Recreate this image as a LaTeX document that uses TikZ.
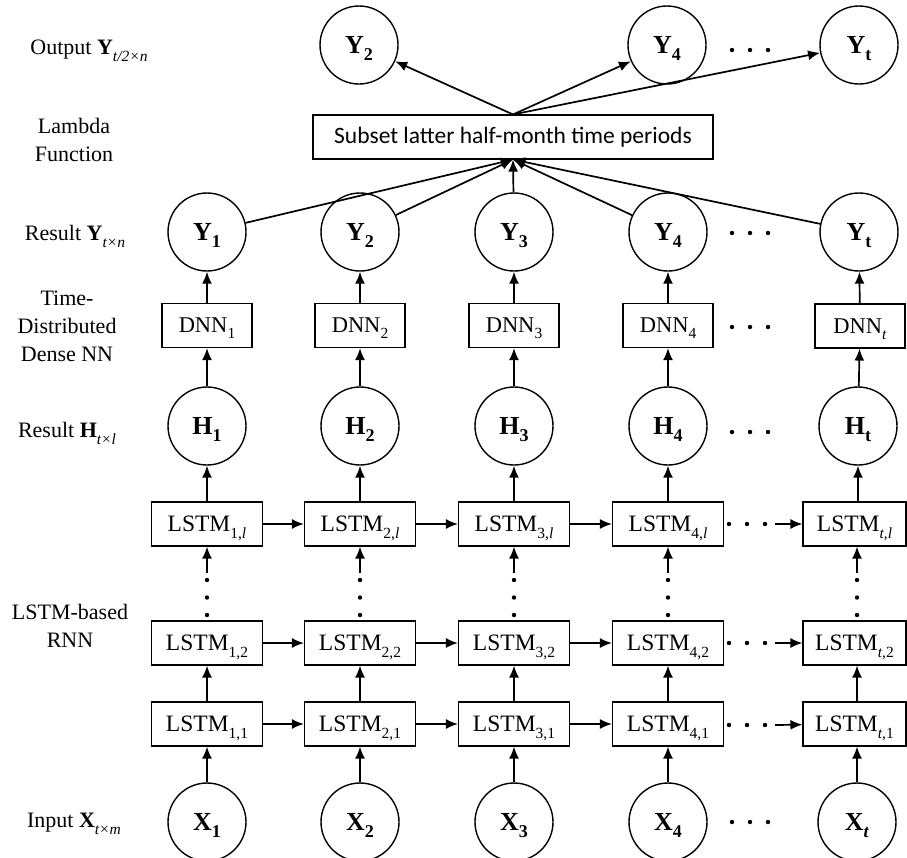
\documentclass[tikz,border=0pt]{standalone}
\usepackage{fontspec}
\setmainfont{Liberation Serif}
\newfontfamily\calfont{Carlito}
\usetikzlibrary{arrows.meta}
\newcommand\sbs[1]{\raisebox{-0.27em}[0pt][0pt]{\fontsize{15.5}{15.5}\selectfont #1}}
\newcommand\sbc[1]{\raisebox{-0.25em}[0pt][0pt]{\fontsize{18}{18}\selectfont\bfseries #1}}
\newcommand\sbl[1]{\raisebox{-0.3em}[0pt][0pt]{\fontsize{15.5}{15.5}\selectfont\itshape #1}}
\tikzset{
  circ/.style={circle, draw, line width=1.4pt, minimum size=78pt, inner sep=0pt,
    font=\fontsize{26}{26}\selectfont\bfseries},
  lbox/.style={draw, line width=1.1pt, minimum width=111pt, minimum height=44pt, inner sep=0pt,
    font=\fontsize{23.5}{23.5}\selectfont},
  dbox/.style={draw, line width=1.1pt, minimum width=90pt, minimum height=44pt, inner sep=0pt,
    font=\fontsize{22.5}{22.5}\selectfont},
  lamb/.style={draw, line width=1.1pt, minimum width=400pt, minimum height=44pt, inner sep=0pt,
    font=\calfont\fontsize{23.5}{23.5}\selectfont},
  arr/.style={-{Latex[length=12pt,width=10pt]}, line width=1.7pt},
  lab/.style={align=center, font=\fontsize{22}{28}\selectfont, inner sep=0pt},
  dot/.style={fill=black}
}
\begin{document}
\begin{tikzpicture}[x=1pt,y=-1pt]
\useasboundingbox (0,0) rectangle (907,857);

% left labels
\node[lab] (l1) at (89,50) {Output \textbf{Y}\sbl{t/2×n}};
\node[lab] (l2) at (74,140) {Lambda\\Function};
\node[lab] (l3) at (75,233) {Result \textbf{Y}\sbl{t×n}};
\node[lab] (l4) at (67,326) {Time-\\Distributed\\Dense NN};
\node[lab] (l5) at (67,430) {Result \textbf{H}\sbl{t×l}};
\node[lab] (l6) at (70,626) {LSTM-based\\RNN};
\node[lab] (l7) at (74,823) {Input \textbf{X}\sbl{t×m}};

% lambda box and output circles
\node[lamb] (lam) at (513,137) {Subset latter half-month time periods};
\node[circ] (oY2) at (359,45) {Y\sbc{2}};
\node[circ] (oY4) at (667,45) {Y\sbc{4}};
\node[circ] (oYt) at (859,45) {Y\sbc{t}};
\foreach \n in {oY2,oY4,oYt} \draw[arr] (lam.north) -- (\n);

% regular columns
\foreach \i/\x in {1/207,2/360,3/514,4/668} {
  \node[circ] (X\i) at (\x,822) {X\sbc{\i}};
  \node[lbox] (A\i) at (\x,724) {LSTM\sbs{\i,1}};
  \node[lbox] (B\i) at (\x,643) {LSTM\sbs{\i,2}};
  \node[lbox] (C\i) at (\x,524) {LSTM\sbs{\i,\textit{l}}};
  \node[circ] (H\i) at (\x,426) {H\sbc{\i}};
  \node[dbox] (D\i) at (\x,325.5) {DNN\sbs{\i}};
  \node[circ] (R\i) at (\x,232) {Y\sbc{\i}};
  \coordinate (v\i) at (\x,573);
  \draw[arr] (X\i) -- (A\i);
  \draw[arr] (A\i) -- (B\i);
  \draw[arr] (v\i) -- (C\i);
  \draw[arr] (C\i) -- (H\i);
  \draw[arr] (H\i) -- (D\i);
  \draw[arr] (D\i) -- (R\i);
  \draw[arr] (R\i) -- (lam.south);
  \foreach \yy in {580,597.5,615} \fill[dot] (\x,\yy) circle (2.2pt);
}
\foreach \i/\j in {1/2,2/3,3/4} {
  \draw[arr] (A\i) -- (A\j);
  \draw[arr] (B\i) -- (B\j);
  \draw[arr] (C\i) -- (C\j);
}

% last column t
\node[circ] (Xt) at (857,822) {X\sbc{\textit{t}}};
\node[lbox, minimum width=103pt] (At) at (854.5,724) {LSTM\sbs{\textit{t},1}};
\node[lbox, minimum width=103pt] (Bt) at (854.5,643) {LSTM\sbs{\textit{t},2}};
\node[lbox, minimum width=103pt] (Ct) at (854.5,524) {LSTM\sbs{\textit{t},\textit{l}}};
\node[circ] (Ht) at (858,426) {H\sbc{t}};
\node[dbox] (Dt) at (860,326) {DNN\sbs{\textit{t}}};
\node[circ] (Rt) at (859,232) {Y\sbc{t}};
\coordinate (vt) at (857,573);
\draw[arr] (Xt) -- (Xt |- At.south);
\draw[arr] (Xt |- At.north) -- (Xt |- Bt.south);
\draw[arr] (vt) -- (vt |- Ct.south);
\draw[arr] (Ht |- Ct.north) -- (Ht);
\draw[arr] (Ht) -- (Dt);
\draw[arr] (Dt) -- (Rt);
\draw[arr] (Rt) -- (lam.south);
\foreach \yy in {580,597.5,615} \fill[dot] (857,\yy) circle (2.2pt);

% horizontal dots + arrows into column t
\coordinate (hA) at (775,725);
\coordinate (hB) at (775,643);
\coordinate (hC) at (775,524);
\draw[arr] (hA) -- (At);
\draw[arr] (hB) -- (Bt);
\draw[arr] (hC) -- (Ct);
\foreach \yy in {524,643,725} \foreach \xx in {729,747,765} \fill[dot] (\xx,\yy) circle (2.2pt);
\foreach \yy in {50,233,327,432,822} \foreach \xx in {732,750,768} \fill[dot] (\xx,\yy) circle (2.2pt);
\end{tikzpicture}
\end{document}
